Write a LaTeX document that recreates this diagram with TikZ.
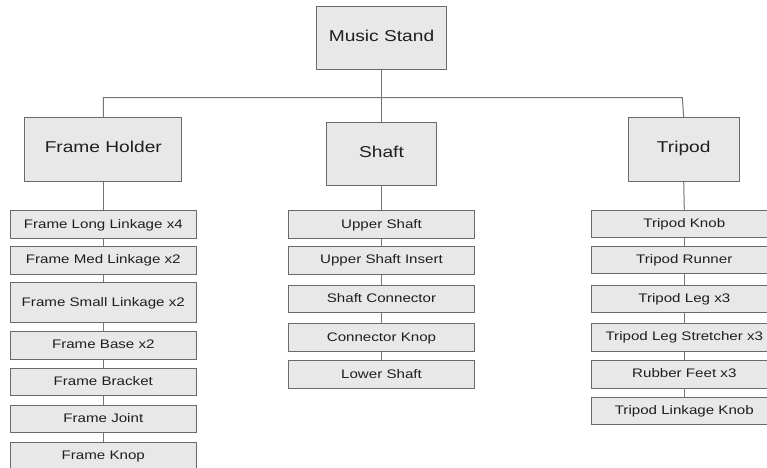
\documentclass[tikz,border=0pt]{standalone}
\usepackage{fontspec}
\setmainfont[FakeStretch=1.22]{Liberation Sans}
\usetikzlibrary{positioning}
\usepackage{xcolor}
\definecolor{boxfill}{HTML}{E8E8E8}
\definecolor{boxline}{HTML}{6A6A6A}
\definecolor{linkgray}{HTML}{767676}
\tikzset{
  groupbox/.style={draw=boxline, fill=boxfill, line width=1pt, inner sep=0pt,
    text height=0.72em, text depth=0pt,
    text=black!88, font=\fontsize{15.7}{18}\selectfont},
  partbox/.style={draw=boxline, fill=boxfill, line width=1pt, inner sep=0pt,
    minimum width=186pt, minimum height=27.5pt,
    text height=0.72em, text depth=0pt,
    text=black!88, font=\fontsize{12.4}{14}\selectfont},
  link/.style={draw=linkgray, line width=1pt},
}

\begin{document}
\begin{tikzpicture}[x=1pt,y=-1pt]
        \clip (0,0) rectangle (767,467);
        \fill[white] (0,0) rectangle (767,467);
        % Conjunto principal e os tres grupos
        \node[groupbox, minimum width=130pt, minimum height=63pt] (stand) at (381.5,37.7) {Music Stand};
        \node[groupbox, minimum width=156.7pt, minimum height=63.7pt] (holder) at (103.3,149.2) {Frame Holder};
        \node[groupbox, minimum width=110.4pt, minimum height=63.4pt] (shaft) at (381.5,154) {Shaft};
        \node[groupbox, minimum width=110.7pt, minimum height=63.7pt] (tripod) at (683.7,149.2) {Tripod};
        % Barra horizontal
        \coordinate (barL) at (103.3,97.5);
        \coordinate (barR) at (682.3,97.5);
        \draw[link] (stand.south) -- (shaft.north);
        \draw[link] (holder.north) -- (barL) -- (barR) -- (tripod.north);
        % Pecas do Frame Holder
        \node[partbox] (fh1) at (103.3,224.7) {Frame Long Linkage x4};
        \node[partbox] (fh2) at (103.3,260.3) {Frame Med Linkage x2};
        \node[partbox, minimum height=39.6pt] (fh3) at (103.3,302.5) {Frame Small Linkage x2};
        \node[partbox] (fh4) at (103.3,345.3) {Frame Base x2};
        \node[partbox] (fh5) at (103.3,382.2) {Frame Bracket};
        \node[partbox] (fh6) at (103.3,418.8) {Frame Joint};
        \node[partbox] (fh7) at (103.3,455.8) {Frame Knop};
        \draw[link] (holder.south) -- (fh1.north);
        \draw[link] (fh1.south) -- (fh2.north);
        \draw[link] (fh2.south) -- (fh3.north);
        \draw[link] (fh3.south) -- (fh4.north);
        \draw[link] (fh4.south) -- (fh5.north);
        \draw[link] (fh5.south) -- (fh6.north);
        \draw[link] (fh6.south) -- (fh7.north);
        % Pecas do Shaft
        \node[partbox] (sh1) at (381.5,224.7) {Upper Shaft};
        \node[partbox] (sh2) at (381.5,260.3) {Upper Shaft Insert};
        \node[partbox] (sh3) at (381.5,299.2) {Shaft Connector};
        \node[partbox] (sh4) at (381.5,337.7) {Connector Knop};
        \node[partbox] (sh5) at (381.5,374.7) {Lower Shaft};
        \draw[link] (shaft.south) -- (sh1.north);
        \draw[link] (sh1.south) -- (sh2.north);
        \draw[link] (sh2.south) -- (sh3.north);
        \draw[link] (sh3.south) -- (sh4.north);
        \draw[link] (sh4.south) -- (sh5.north);
        % Pecas do Tripod
        \node[partbox] (tp1) at (684.3,223.8) {Tripod Knob};
        \node[partbox] (tp2) at (684.3,260) {Tripod Runner};
        \node[partbox] (tp3) at (684.3,298.8) {Tripod Leg x3};
        \node[partbox] (tp4) at (684.3,337.3) {Tripod Leg Stretcher x3};
        \node[partbox] (tp5) at (684.3,374.3) {Rubber Feet x3};
        \node[partbox] (tp6) at (684.3,411.2) {Tripod Linkage Knob};
        \draw[link] (tripod.south) -- (tp1.north);
        \draw[link] (tp1.south) -- (tp2.north);
        \draw[link] (tp2.south) -- (tp3.north);
        \draw[link] (tp3.south) -- (tp4.north);
        \draw[link] (tp4.south) -- (tp5.north);
        \draw[link] (tp5.south) -- (tp6.north);
    \end{tikzpicture}
\end{document}
